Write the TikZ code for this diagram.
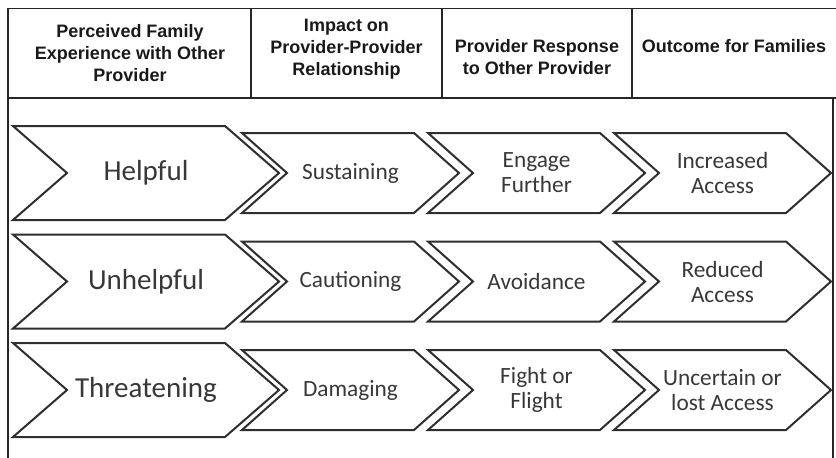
\documentclass[tikz,border=0pt]{standalone}
\usepackage{fontspec}
\newfontfamily\headfont{Liberation Sans}
\newfontfamily\boxfont{Carlito}

\begin{document}
\begin{tikzpicture}[x=1pt,y=-1pt,
    rule/.style={line width=1.6pt,draw=black!85},
    head/.style={font=\headfont\bfseries\fontsize{18}{22}\selectfont,text=black!90,align=center,inner sep=0pt},
    chev/.style={line width=2pt,draw=black!82,line join=miter},
    bigtxt/.style={font=\boxfont\fontsize{29}{34}\selectfont,text=black!78,inner sep=0pt},
    smalltxt/.style={font=\boxfont\fontsize{23.3}{25}\selectfont,text=black!78,align=center,inner sep=0pt}]
    \useasboundingbox (0,0) rectangle (836,458);
    % table frame and header cells
    \draw[rule] (836,8.5) -- (8,8.5) -- (8,458);
    \draw[rule] (8,98) -- (836,98);
    \draw[rule,line width=1.3pt] (833,98) -- (833,458);
    \draw[rule,line width=1.2pt] (251,8.5) -- (251,98);
    \draw[rule,line width=1.2pt] (442,8.5) -- (442,98);
    \draw[rule,line width=1.2pt] (632,8.5) -- (632,98);
    \node[head] (col1) at (130,53) {Perceived Family\\Experience with Other\\Provider};
    \node[head] (col2) at (346.5,49.5) {Impact on\\Provider-Provider\\Relationship};
    \node[head] (col3) at (537,57.5) {Provider Response\\to Other Provider};
    \node[head] (col4) at (734,46.5) {Outcome for Families};
    % chevron rows
    \foreach \y in {173,281.5,390} {
        \draw[chev] (13,\y-47) -- (225,\y-47) -- (279,\y) -- (225,\y+47) -- (13,\y+47) -- (67,\y) -- cycle;
        \foreach \x in {242,428,614}
            \draw[chev] (\x,\y-40) -- ++(172,0) -- ++(45,40) -- ++(-45,40) -- ++(-172,0) -- ++(45,-40) -- cycle;
    }
    \node[bigtxt] (exp1) at (146,173) {Helpful};
    \node[smalltxt] (imp1) at (350.5,173) {Sustaining};
    \node[smalltxt] (resp1) at (536.5,173) {Engage\\Further};
    \node[smalltxt] (out1) at (722.5,173) {Increased\\Access};
    \node[bigtxt] (exp2) at (146,281.5) {Unhelpful};
    \node[smalltxt] (imp2) at (350.5,281.5) {Cautioning};
    \node[smalltxt] (resp2) at (536.5,281.5) {Avoidance};
    \node[smalltxt] (out2) at (722.5,281.5) {Reduced\\Access};
    \node[bigtxt] (exp3) at (146,390) {Threatening};
    \node[smalltxt] (imp3) at (350.5,390) {Damaging};
    \node[smalltxt] (resp3) at (536.5,390) {Fight or\\Flight};
    \node[smalltxt] (out3) at (722.5,390) {Uncertain or\\lost Access};
\end{tikzpicture}
\end{document}
